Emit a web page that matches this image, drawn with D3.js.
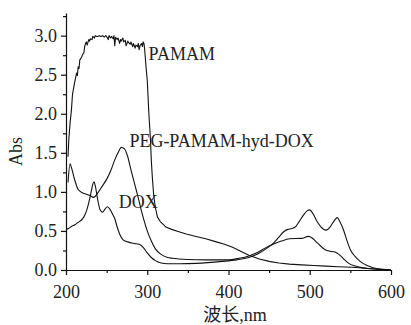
<!DOCTYPE html>
<html>
<head>
<meta charset="utf-8">
<script src="https://cdn.jsdelivr.net/npm/d3@7"></script>
<style>
  body { margin: 0; background: #fff; }
  svg, svg text { font-family: "Liberation Serif", "DejaVu Serif", "Noto Sans CJK SC", serif; }
  .axis path, .axis line { stroke: #111; stroke-width: 1.2; }
  .axis text { font-size: 18px; fill: #222; font-family: "Liberation Serif", serif; }
  .curve { fill: none; stroke: #111; stroke-width: 1.1; stroke-linejoin: round; }
  .lbl { font-size: 18px; fill: #222; }
</style>
</head>
<body>
<div id="chart"></div>
<script>
// UV-Vis spectra, wavelength (nm) vs absorbance
const pamamNm = [202.5, 203.4, 205, 206.7, 208, 209.6, 211, 213, 214, 215, 216, 217, 219, 221, 222, 223,
  224, 225, 226, 228, 229, 230, 232, 233, 235, 236, 238, 239, 241, 243, 245, 247, 249, 250, 252, 253,
  255, 256, 258, 259, 260, 261, 263, 264, 266, 267, 268, 270, 271, 273, 274, 276, 277, 279, 280, 282,
  283, 285, 286, 288, 289, 290, 291, 293, 294, 295, 296, 297, 298.5, 300, 302, 304, 305, 306.5, 308,
  310, 312.5, 316, 319, 323, 330, 339, 348, 360, 372, 385, 395, 405, 415, 425, 438, 450, 462, 475, 490,
  505, 520, 535, 552, 565, 580, 590, 600];
const pamamAbs = [1.45, 1.66, 1.88, 2.05, 2.25, 2.34, 2.42, 2.52, 2.49, 2.6, 2.58, 2.69, 2.72, 2.77, 2.78, 2.86,
  2.9, 2.92, 2.88, 2.95, 2.93, 2.96, 2.95, 2.99, 2.97, 3.0, 2.99, 2.99, 3.0, 2.99, 3.0, 2.98, 3.0, 2.99, 2.95, 3.0,
  2.97, 2.99, 2.96, 3.0, 2.87, 2.98, 2.95, 2.97, 2.9, 2.95, 2.93, 2.97, 2.92, 2.94, 2.87, 2.93, 2.91, 2.89, 2.92, 2.86,
  2.9, 2.84, 2.88, 2.86, 2.9, 2.82, 2.87, 2.9, 2.86, 2.92, 2.9, 2.8, 2.6, 2.43, 2.0, 1.66, 1.4, 1.15, 0.95,
  0.8, 0.68, 0.62, 0.59, 0.55, 0.52, 0.49, 0.46, 0.43, 0.4, 0.36, 0.33, 0.29, 0.24, 0.19, 0.14, 0.11, 0.09, 0.075, 0.065,
  0.058, 0.05, 0.042, 0.035, 0.025, 0.012, 0.005, 0];

const pegNm = [202.5, 205, 207, 210, 215, 220, 225, 230, 234, 240, 245, 250, 255, 260, 265, 268, 272, 276,
  280, 285, 289, 293, 297, 300, 305, 310, 317, 325, 331, 350, 372, 400, 413, 425, 435, 445, 455, 465, 475,
  490, 498, 503, 507, 513, 519, 525, 531, 537, 543, 548, 556, 564, 575, 600];
const pegAbs = [1.12, 1.36, 1.3, 1.18, 1.03, 0.99, 0.97, 0.95, 0.93, 1.0, 1.08, 1.16, 1.27, 1.41, 1.52, 1.57, 1.55, 1.45,
  1.28, 1.08, 0.92, 0.75, 0.6, 0.5, 0.37, 0.27, 0.2, 0.16, 0.15, 0.135, 0.13, 0.13, 0.15, 0.18, 0.22, 0.28, 0.33, 0.37, 0.4,
  0.405, 0.43, 0.41, 0.37, 0.31, 0.26, 0.24, 0.23, 0.19, 0.13, 0.085, 0.05, 0.03, 0.015, 0];

const doxNm = [200.5, 203, 207, 211, 215, 219, 222, 225, 228, 231, 233, 234.5, 236, 239, 242, 245, 248, 251,
  254, 257, 260, 263, 266, 270, 276, 284, 290, 295, 300, 305, 310, 317, 325, 340, 360, 392, 410, 425, 437,
  446, 455, 462, 468, 473, 478, 483, 487, 492, 497, 500, 504, 509, 514, 520, 525, 530, 534, 537, 542, 546,
  550, 556, 562, 570, 578, 590, 600];
const doxAbs = [0.52, 0.53, 0.56, 0.58, 0.61, 0.64, 0.68, 0.75, 0.86, 1.0, 1.1, 1.13, 1.08, 0.9, 0.77, 0.74, 0.78, 0.81,
  0.78, 0.72, 0.66, 0.55, 0.46, 0.39, 0.36, 0.34, 0.33, 0.29, 0.22, 0.16, 0.12, 0.09, 0.08, 0.08, 0.085, 0.11, 0.13, 0.16, 0.21,
  0.27, 0.34, 0.42, 0.49, 0.52, 0.53, 0.56, 0.62, 0.7, 0.76, 0.77, 0.72, 0.62, 0.55, 0.51, 0.55, 0.63, 0.67, 0.62, 0.5, 0.37,
  0.26, 0.17, 0.11, 0.06, 0.03, 0.01, 0];

const xTicks = [200, 300, 400, 500, 600];
const xMinor = [250, 350, 450, 550];
const yTicks = [0, 0.5, 1.0, 1.5, 2.0, 2.5, 3.0];
const yMinor = [0.25, 0.75, 1.25, 1.75, 2.25, 2.75, 3.25];

const labels = ['PAMAM', 'PEG-PAMAM-hyd-DOX', 'DOX'];
const labelNm = [301.6, 278, 265];
const labelAbs = [2.69, 1.57, 0.79];

const W = 411, H = 325;
const margin = { top: 13, right: 20, bottom: 55, left: 66 };

const svg = d3.select('#chart').append('svg')
  .attr('width', W)
  .attr('height', H);

const x = d3.scaleLinear().domain([200, 600]).range([margin.left, W - margin.right]);
const y = d3.scaleLinear().domain([0, 3.29]).range([H - margin.bottom, margin.top]);

// minor ticks first, then the major axes on top
svg.append('g')
  .attr('class', 'axis')
  .attr('transform', `translate(0,${H - margin.bottom})`)
  .call(d3.axisBottom(x).tickValues(xMinor).tickSize(3).tickFormat(''))
  .call(g => g.select('.domain').remove());

svg.append('g')
  .attr('class', 'axis')
  .attr('transform', `translate(${margin.left},0)`)
  .call(d3.axisLeft(y).tickValues(yMinor).tickSize(3).tickFormat(''))
  .call(g => g.select('.domain').remove());

svg.append('g')
  .attr('class', 'axis')
  .attr('transform', `translate(0,${H - margin.bottom})`)
  .call(d3.axisBottom(x).tickValues(xTicks).tickSize(5).tickSizeOuter(0).tickPadding(10).tickFormat(d3.format('d')));

svg.append('g')
  .attr('class', 'axis')
  .attr('transform', `translate(${margin.left},0)`)
  .call(d3.axisLeft(y).tickValues(yTicks).tickSize(5).tickSizeOuter(0).tickPadding(4).tickFormat(d3.format('.1f')));

svg.selectAll('.axis').attr('font-family', null);

const series = [
  { nm: pamamNm, abs: pamamAbs, curve: d3.curveLinear },
  { nm: pegNm, abs: pegAbs, curve: d3.curveMonotoneX },
  { nm: doxNm, abs: doxAbs, curve: d3.curveMonotoneX }
];

for (const s of series) {
  const line = d3.line()
    .x((d, i) => x(s.nm[i]))
    .y(d => y(d))
    .curve(s.curve);
  svg.append('path')
    .attr('class', 'curve')
    .attr('d', line(s.abs));
}

labels.forEach((t, i) => {
  svg.append('text')
    .attr('class', 'lbl')
    .attr('x', x(labelNm[i]))
    .attr('y', y(labelAbs[i]))
    .text(t);
});

svg.append('text')
  .attr('class', 'lbl')
  .attr('transform', `translate(22,${(margin.top + H - margin.bottom) / 2 + 10}) rotate(-90)`)
  .attr('text-anchor', 'middle')
  .text('Abs');

svg.append('text')
  .attr('class', 'lbl')
  .attr('x', 235)
  .attr('y', 321)
  .attr('text-anchor', 'middle')
  .text('波长,nm');
</script>
</body>
</html>
